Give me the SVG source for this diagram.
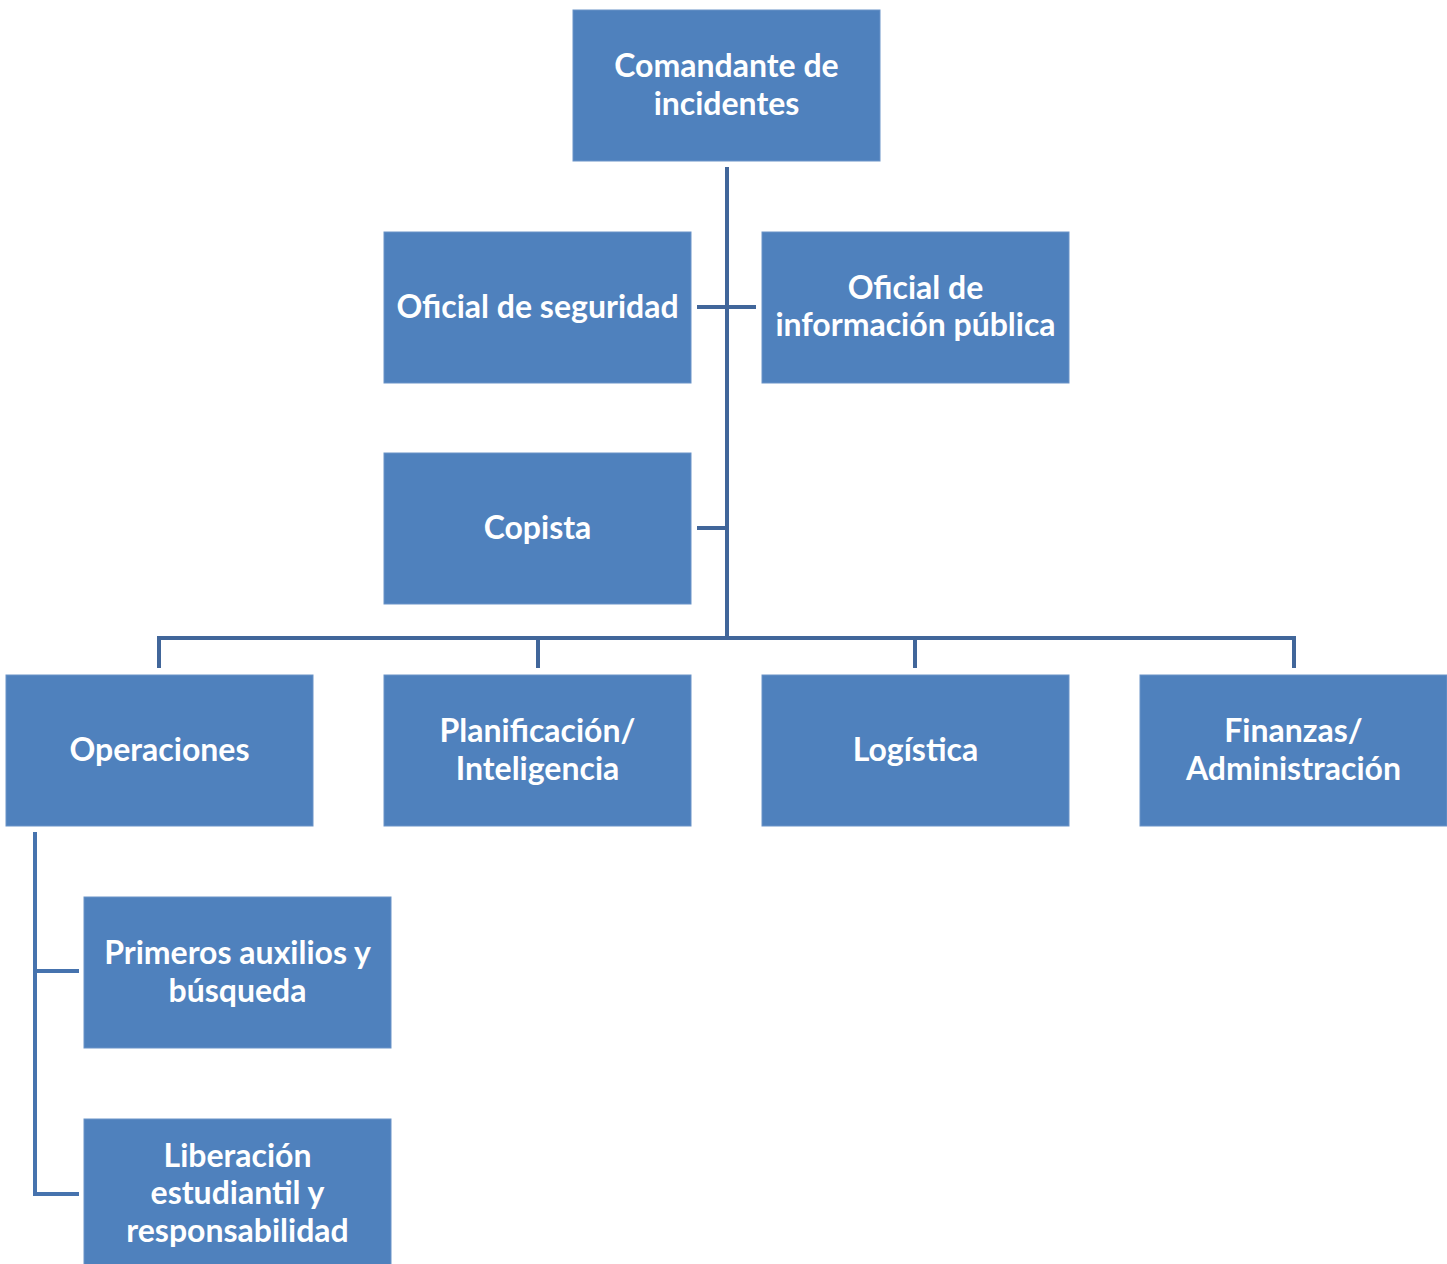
<svg xmlns="http://www.w3.org/2000/svg" width="1447" height="1264" viewBox="0 0 1447 1264">
<style>
.box{fill:#4F81BD;stroke:#6A93C8;stroke-width:1}
.t{font-family:Lato,"Open Sans","Liberation Sans",sans-serif;font-weight:bold;font-size:32px;fill:#FFFFFF;text-anchor:middle}
.c{fill:none;stroke:#41669A;stroke-width:4}
.c2{fill:none;stroke:#4673AE;stroke-width:4}
</style>
<rect width="1447" height="1264" fill="#FFFFFF"/>
<g id="connectors">
<path class="c" d="M727 167V638M159 668V638H1294V668M538 638V668M915 638V668M697 307H756M697 528H727"/>
<path class="c2" d="M35 832V1194H79M35 971H79"/>
</g>
<g id="comandante"><rect class="box" x="573" y="10" width="307" height="151"/><text class="t" x="726.5" y="77">Comandante de</text><text class="t" x="726.5" y="115">incidentes</text></g>
<g id="seguridad"><rect class="box" x="384" y="232" width="307" height="151"/><text class="t" x="537.5" y="318">Oficial de seguridad</text></g>
<g id="informacion"><rect class="box" x="762" y="232" width="307" height="151"/><text class="t" x="915.5" y="299">Oficial de</text><text class="t" x="915.5" y="336">información pública</text></g>
<g id="copista"><rect class="box" x="384" y="453" width="307" height="151"/><text class="t" x="537.5" y="539">Copista</text></g>
<g id="operaciones"><rect class="box" x="6" y="675" width="307" height="151"/><text class="t" x="159.5" y="761">Operaciones</text></g>
<g id="planificacion"><rect class="box" x="384" y="675" width="307" height="151"/><text class="t" x="537.5" y="742">Planificación/</text><text class="t" x="537.5" y="780">Inteligencia</text></g>
<g id="logistica"><rect class="box" x="762" y="675" width="307" height="151"/><text class="t" x="915.5" y="761">Logística</text></g>
<g id="finanzas"><rect class="box" x="1140" y="675" width="307" height="151"/><text class="t" x="1293.5" y="742">Finanzas/</text><text class="t" x="1293.5" y="780">Administración</text></g>
<g id="primeros"><rect class="box" x="84" y="897" width="307" height="151"/><text class="t" x="237.5" y="964">Primeros auxilios y</text><text class="t" x="237.5" y="1002">búsqueda</text></g>
<g id="liberacion"><rect class="box" x="84" y="1119" width="307" height="150"/><text class="t" x="237.5" y="1167">Liberación</text><text class="t" x="237.5" y="1204">estudiantil y</text><text class="t" x="237.5" y="1242">responsabilidad</text></g>
</svg>
